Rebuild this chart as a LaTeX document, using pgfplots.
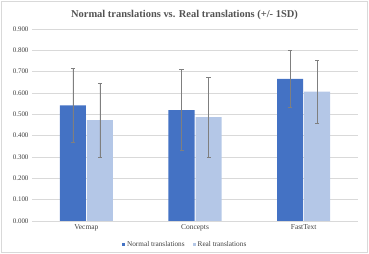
\documentclass[border=0pt]{standalone}
\usepackage{pgfplots}
\pgfplotsset{compat=1.18}
\usepackage{fontspec}
\setmainfont{Liberation Serif}
\definecolor{cNorm}{HTML}{4472C4}
\definecolor{cReal}{HTML}{B4C7E7}
\definecolor{cGrid}{HTML}{D9D9D9}
\definecolor{cText}{HTML}{404040}
\definecolor{cErr}{HTML}{7F7F7F}
\begin{document}
\begin{tikzpicture}[x=1bp,y=1bp]
\useasboundingbox (0,0) rectangle (369,254);
\draw[cGrid,line width=0.8bp] (1.5,1.5) rectangle (367.5,252.5);
\node[font=\bfseries\fontsize{10.5}{12}\selectfont,text=cText!90!white] at (184.5,239.5) {Normal translations vs. Real translations (+/- 1SD)};
\begin{axis}[
  at={(32bp,33bp)}, anchor=south west,
  scale only axis, width=326bp, height=192bp,
  ymin=0, ymax=0.9, xmin=-0.5, xmax=2.5,
  ytick={0,0.1,...,0.9},
  xtick={0,1,2}, xticklabels={Vecmap,Concepts,FastText},
  ybar=1bp, bar width=26bp,
  axis line style={draw=none},
  axis x line*=bottom,
  x axis line style={draw=cGrid},
  ymajorgrids, grid style={cGrid,line width=0.6bp},
  major tick length=0pt,
  tick label style={font=\fontsize{7}{8}\selectfont,text=cText},
  yticklabel style={/pgf/number format/.cd,fixed,fixed zerofill,precision=3,assume math mode=true},
  xticklabel style={font=\fontsize{7.5}{8}\selectfont,text=cText},
  legend style={at={(0.47,-0.085)},anchor=north,draw=none,legend columns=2,
    font=\fontsize{7.3}{8}\selectfont,text=cText,
    /tikz/every even column/.append style={column sep=6bp}},
  legend image code/.code={\fill[#1] (0bp,-1.5bp) rectangle (3bp,1.5bp);},
  error bars/error bar style={cErr,line width=0.6bp},
  error bars/error mark options={rotate=90,mark size=2bp,cErr,line width=0.6bp},
]
\addplot[fill=cNorm,draw=none,error bars/.cd,y dir=both,y explicit]
  coordinates {(0,0.542) +- (0,0.173) (1,0.520) +- (0,0.190) (2,0.666) +- (0,0.133)};
\addplot[fill=cReal,draw=none,error bars/.cd,y dir=both,y explicit]
  coordinates {(0,0.473) +- (0,0.174) (1,0.487) +- (0,0.187) (2,0.606) +- (0,0.148)};
\legend{Normal translations,Real translations}
\end{axis}
\end{tikzpicture}
\end{document}
